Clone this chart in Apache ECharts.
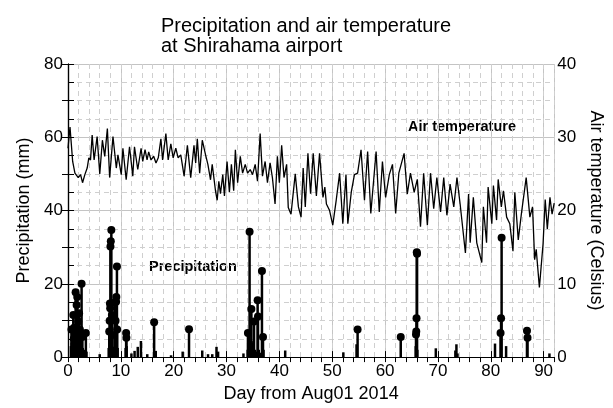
<!DOCTYPE html>
<html>
<head>
<meta charset="utf-8">
<script src="https://cdn.jsdelivr.net/npm/echarts@6/dist/echarts.min.js"></script>
<style>
  html, body { margin: 0; padding: 0; background: #fff; }
  #chart { width: 613px; height: 408px; }
</style>
</head>
<body>
<div id="chart"></div>
<script>
// air temperature (Celsius), [day, value]
const tempDays = [
  0.0, 0.38, 0.88, 1.31, 1.94, 2.38, 2.75, 3.19, 3.63, 3.94, 4.26, 4.57, 4.94, 5.51, 6.01, 6.51, 6.95, 7.45, 7.88, 8.51,
  9.14, 9.45, 10.08, 10.39, 11.01, 11.64, 12.26, 12.58, 13.2, 13.83, 14.14, 14.58, 14.96, 15.27, 15.71, 16.21, 16.65, 17.08, 17.58, 17.9,
  18.52, 18.96, 19.46, 19.9, 20.4, 20.84, 21.34, 21.97, 22.59, 23.22, 23.84, 24.16, 24.47, 24.91, 25.41, 26.03, 26.47, 26.97, 27.29, 27.91,
  28.23, 28.54, 28.85, 29.29, 29.6, 30.1, 30.54, 30.92, 31.35, 31.67, 32.1, 32.6, 33.04, 33.54, 33.98, 34.48, 34.92, 35.42, 35.86, 36.36,
  36.8, 37.3, 37.74, 38.24, 38.68, 39.18, 39.62, 39.99, 40.43, 40.87, 41.37, 41.68, 42.2, 43.0, 43.6, 44.1, 44.5, 44.9, 45.4, 45.9,
  46.4, 47.0, 47.6, 48.25, 48.6, 48.9, 49.5, 50.1, 50.75, 51.4, 52.0, 52.6, 52.95, 53.6, 54.2, 54.8, 55.45, 56.1, 56.7, 57.3,
  58.3, 58.9, 59.5, 60.1, 60.8, 61.4, 62.0, 62.6, 63.6, 64.2, 64.8, 65.5, 66.1, 66.7, 67.3, 68.0, 68.6, 69.2, 69.8, 70.5,
  71.1, 71.7, 72.3, 73.0, 73.6, 74.2, 75.2, 75.8, 76.1, 76.7, 77.35, 78.3, 78.6, 79.2, 79.5, 80.2, 80.5, 81.1, 81.4, 82.0,
  82.4, 83.0, 83.6, 84.2, 84.55, 85.2, 85.8, 86.7, 87.4, 87.9, 88.3, 88.6, 89.2, 89.9, 90.3, 90.7, 91.2, 91.6, 92.0
]
const tempValues = [
  28.5, 31.4, 26.7, 25.1, 24.5, 24.9, 23.8, 24.9, 25.8, 27.2, 26.9, 30.3, 26.9, 30.1, 25.0, 29.6, 27.4, 31.2, 24.5, 30.1,
  25.8, 27.6, 24.9, 28.5, 24.2, 28.7, 24.7, 28.7, 25.6, 28.5, 26.7, 28.3, 26.9, 28.0, 26.9, 27.4, 26.5, 27.2, 29.8, 26.9,
  30.5, 26.9, 29.1, 27.2, 28.5, 27.2, 27.6, 24.7, 28.9, 24.5, 28.9, 26.5, 29.8, 25.1, 29.6, 27.6, 26.3, 24.2, 26.3, 22.7,
  21.4, 24.0, 22.3, 24.9, 22.0, 26.7, 22.5, 26.3, 22.7, 28.3, 23.8, 27.4, 25.1, 26.3, 25.1, 25.6, 24.9, 26.3, 24.0, 30.5,
  24.7, 26.7, 23.8, 26.5, 24.5, 20.9, 27.4, 23.8, 28.9, 24.5, 26.3, 20.4, 19.5, 25.0, 20.5, 19.1, 25.8, 20.5, 27.8, 22.3,
  27.8, 22.0, 27.8, 21.8, 23.2, 20.9, 20.0, 18.0, 21.4, 25.1, 18.2, 24.9, 18.2, 22.5, 24.9, 25.1, 28.3, 21.4, 28.05, 19.6,
  28.05, 19.8, 26.7, 21.8, 24.9, 26.3, 19.6, 25.1, 27.8, 22.25, 25.1, 22.5, 24.25, 17.8, 25.1, 18.0, 25.1, 20.25, 24.5, 19.8,
  24.5, 19.35, 23.6, 20.5, 24.5, 20.9, 14.2, 22.25, 15.6, 21.8, 15.6, 12.9, 20.5, 15.6, 23.2, 18.2, 23.4, 18.7, 24.25, 20.5,
  22.7, 19.1, 18.2, 14.45, 22.5, 16.0, 19.6, 24.5, 19.1, 20.5, 13.3, 14.7, 9.5, 15.5, 21.5, 17.5, 21.8, 19.5, 21.0
]

// precipitation (mm), [day, value]
const precipDays = [
  0.55, 0.65, 0.69, 0.8, 0.9, 1.0, 1.1, 1.15, 1.2, 1.31, 1.4, 1.44, 1.5, 1.63, 1.7, 1.75, 1.85, 1.94, 2.0, 2.1,
  2.15, 2.25, 2.35, 2.45, 2.57, 2.65, 2.7, 2.8, 2.95, 3.25, 3.38, 3.5, 6.0,
  7.7, 7.8, 7.85, 7.88, 7.93, 7.98, 8.03, 8.1, 8.2, 8.3, 8.4, 8.5, 8.7, 8.82, 8.9, 9.0, 9.1, 9.14, 9.26, 9.3, 9.4,
  10.9, 11.0, 11.05, 11.1, 12.0, 12.6, 13.2, 13.8, 15.0, 16.3, 16.6, 19.5, 21.7, 22.9, 25.4, 26.5, 27.3, 28.1, 28.4, 33.2,
  34.0, 34.05, 34.1, 34.2, 34.36, 34.5, 34.6, 34.7, 34.8, 35.0, 35.1, 35.2, 35.4, 35.6, 35.88, 35.95, 36.1, 36.5, 36.7, 36.8, 36.9, 37.0,
  41.1, 52.1, 54.6, 54.8, 62.96, 65.8, 65.85, 65.9, 65.95, 66.0, 66.05, 66.1, 69.6, 73.3, 73.5, 73.7,
  80.8, 81.85, 81.95, 82.05, 82.9, 86.85, 86.95, 91.1
]
const precipValues = [
  3.0, 7.5, 4.0, 4.5, 3.0, 11.5, 5.0, 8.0, 4.0, 6.2, 4.5, 17.7, 3.5, 14.2, 5.0, 16.4, 4.0, 9.7, 3.5, 12.0,
  5.0, 7.5, 4.0, 3.0, 20.0, 4.5, 5.5, 2.5, 1.5, 2.0, 6.6, 1.5, 0.8,
  2.5, 7.0, 3.0, 9.9, 14.6, 13.3, 30.2, 31.6, 34.7, 11.5, 6.0, 2.8, 2.5, 14.9, 3.0, 9.9, 15.1, 16.4, 24.7, 7.5, 2.5,
  2.5, 6.6, 5.3, 3.0, 1.0, 1.7, 2.8, 4.4, 0.8, 9.5, 1.7, 0.5, 1.5, 7.6, 1.8, 0.8, 0.8, 2.8, 1.5, 1.0,
  2.0, 6.6, 4.0, 3.0, 34.2, 4.4, 3.5, 13.1, 4.0, 3.5, 4.4, 9.7, 2.0, 1.5, 15.5, 11.1, 2.0, 1.2, 23.5, 3.0, 5.5, 2.0,
  1.8, 1.3, 3.5, 7.5, 5.5, 3.0, 6.2, 7.0, 10.6, 28.6, 28.2, 2.0, 2.4, 1.8, 3.5, 1.0,
  3.7, 6.6, 10.6, 32.6, 3.0, 7.2, 5.3, 1.0
]
const markerMin = 5

const xTicks = [0, 10, 20, 30, 40, 50, 60, 70, 80, 90]

const font = 'Liberation Sans, Arial, Helvetica, sans-serif'

const tempData = tempDays.map((d, i) => [d, tempValues[i]])
const precipData = precipDays.map((d, i) => [d, precipValues[i]])
const markerData = precipData.filter(p => p[1] >= markerMin)

const chart = echarts.init(document.getElementById('chart'))

chart.setOption({
  animation: false,
  textStyle: { fontFamily: font },
  title: {
    text: 'Precipitation and air temperature\nat Shirahama airport',
    left: 156,
    top: 11,
    textStyle: { fontSize: 20, fontWeight: 'normal', color: '#000', lineHeight: 20, fontFamily: font }
  },
  grid: { left: 68, right: 55, top: 64, bottom: 45 },
  xAxis: [{
    type: 'value',
    min: 0,
    max: 92,
    interval: 10,
    position: 'bottom',
    axisLine: { lineStyle: { color: '#000', width: 1.2 } },
    axisTick: { inside: true, length: 6, lineStyle: { color: '#000' } },
    axisLabel: {
      color: '#000', fontSize: 17, margin: 6, showMaxLabel: false,
      formatter: v => (xTicks.indexOf(v) >= 0 ? String(v) : '')
    },
    splitLine: { show: true, lineStyle: { color: '#c4c4c4', width: 1 } },
    name: 'Day from Aug01 2014',
    nameLocation: 'middle',
    nameGap: 26,
    nameTextStyle: { color: '#000', fontSize: 18 }
  }, {
    type: 'value',
    min: 0,
    max: 92,
    interval: 2,
    position: 'top',
    axisLine: { lineStyle: { color: '#000', width: 1.2 } },
    axisTick: { inside: true, length: 5, lineStyle: { color: '#000' } },
    axisLabel: { show: false },
    splitLine: { show: true, lineStyle: { color: '#cfcfcf', width: 1, type: [5, 4] } }
  }],
  yAxis: [{
    type: 'value',
    min: 0,
    max: 80,
    interval: 20,
    position: 'left',
    axisLine: { show: true, lineStyle: { color: '#000', width: 1.2 } },
    axisTick: { show: true, inside: true, length: 6, lineStyle: { color: '#000' } },
    minorTick: { show: true, splitNumber: 4, length: 6, lineStyle: { color: '#000' } },
    axisLabel: { color: '#000', fontSize: 17, margin: 5 },
    splitLine: { show: true, lineStyle: { color: '#c4c4c4', width: 1 } },
    minorSplitLine: { show: true, lineStyle: { color: '#cfcfcf', width: 1, type: [5, 4] } },
    name: 'Precipitation (mm)',
    nameLocation: 'middle',
    nameGap: 31,
    nameTextStyle: { color: '#000', fontSize: 18 }
  }, {
    type: 'value',
    min: 0,
    max: 40,
    interval: 10,
    position: 'right',
    axisLine: { show: true, lineStyle: { color: '#000', width: 1.2 } },
    axisTick: { show: true, inside: true, length: 6, lineStyle: { color: '#000' } },
    minorTick: { show: true, splitNumber: 2, length: 6, lineStyle: { color: '#000' } },
    axisLabel: { color: '#000', fontSize: 17, margin: 3 },
    splitLine: { show: false },
    name: 'Air temperature (Celsius)',
    nameLocation: 'middle',
    nameGap: 30,
    nameRotate: -90,
    nameTextStyle: { color: '#000', fontSize: 18 }
  }],
  graphic: [{
    type: 'text',
    left: 408,
    top: 119,
    style: { text: 'Air temperature', fill: '#000', font: 'bold 14.5px ' + font }
  }, {
    type: 'text',
    left: 149,
    top: 259,
    style: { text: 'Precipitation', fill: '#000', font: 'bold 14.5px ' + font }
  }],
  series: [{
    name: 'Air temperature',
    type: 'line',
    xAxisIndex: 0,
    yAxisIndex: 1,
    data: tempData,
    symbol: 'none',
    lineStyle: { color: '#000', width: 1.3 },
    z: 3
  }, {
    name: 'Precipitation',
    type: 'bar',
    xAxisIndex: 0,
    yAxisIndex: 0,
    data: precipData,
    barWidth: 2.5,
    itemStyle: { color: '#000' },
    z: 4
  }, {
    name: 'Precipitation peaks',
    type: 'scatter',
    xAxisIndex: 0,
    yAxisIndex: 0,
    data: markerData,
    symbol: 'circle',
    symbolSize: 8,
    itemStyle: { color: '#000', opacity: 1 },
    z: 5
  }]
})
</script>
</body>
</html>
